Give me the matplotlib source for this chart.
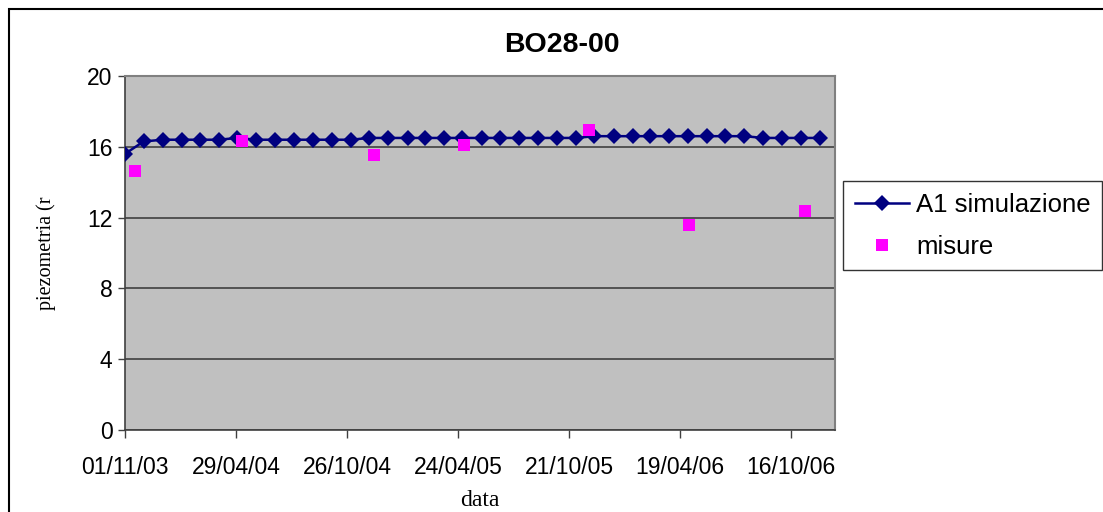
import matplotlib.pyplot as plt
import matplotlib.dates as mdates
from matplotlib.patches import Rectangle
import pandas as pd

# Serie simulata A1 (valori mensili, m)
date_sim = ["2003-11-01", "2003-12-01", "2004-01-01", "2004-02-01", "2004-03-01",
            "2004-04-01", "2004-05-01", "2004-06-01", "2004-07-01", "2004-08-01",
            "2004-09-01", "2004-10-01", "2004-11-01", "2004-12-01", "2005-01-01",
            "2005-02-01", "2005-03-01", "2005-04-01", "2005-05-01", "2005-06-01",
            "2005-07-01", "2005-08-01", "2005-09-01", "2005-10-01", "2005-11-01",
            "2005-12-01", "2006-01-01", "2006-02-01", "2006-03-01", "2006-04-01",
            "2006-05-01", "2006-06-01", "2006-07-01", "2006-08-01", "2006-09-01",
            "2006-10-01", "2006-11-01", "2006-12-01"]
valori_sim = [15.6, 16.3, 16.4, 16.4, 16.4, 16.4, 16.5, 16.4, 16.4, 16.4,
              16.4, 16.4, 16.4, 16.5, 16.5, 16.5, 16.5, 16.5, 16.5, 16.5,
              16.5, 16.5, 16.5, 16.5, 16.5, 16.6, 16.6, 16.6, 16.6, 16.6,
              16.6, 16.6, 16.6, 16.6, 16.5, 16.5, 16.5, 16.5]

# Misure piezometriche
date_mis = ["2003-11-18", "2004-05-08", "2004-12-08", "2005-05-03",
            "2005-11-23", "2006-05-03", "2006-11-08"]
valori_mis = [14.65, 16.35, 15.55, 16.1, 16.95, 11.6, 12.4]

# Etichette dell'asse x (passo di 180 giorni)
tick_date = ["2003-11-01", "2004-04-29", "2004-10-26", "2005-04-24",
             "2005-10-21", "2006-04-19", "2006-10-16"]
x_inizio = "2003-11-01"
x_fine = "2006-12-26"

W, H = 1103, 512
fig = plt.figure(figsize=(W / 100, H / 100), dpi=100)
ax = fig.add_axes([125 / W, 1 - 430 / H, (835 - 125) / W, (430 - 76) / H])

ax.set_facecolor("#C0C0C0")
ax.plot(pd.to_datetime(date_sim), valori_sim, color="#000080", linewidth=1.8,
        marker="D", markersize=8, markeredgewidth=0, label="A1 simulazione",
        zorder=3)
ax.plot(pd.to_datetime(date_mis), valori_mis, linestyle="none", marker="s",
        markersize=8.5, color="#FF00FF", markeredgewidth=0, label="misure", zorder=4)

ax.set_ylim(0, 20)
ax.set_yticks([0, 4, 8, 12, 16, 20])
ax.set_xlim(pd.Timestamp(x_inizio), pd.Timestamp(x_fine))
ax.set_xticks(pd.to_datetime(tick_date))
ax.xaxis.set_major_formatter(mdates.DateFormatter("%d/%m/%y"))

ax.grid(axis="y", color="#404040", linewidth=1.2)
ax.set_axisbelow(True)
for lato in ["left", "bottom"]:
    ax.spines[lato].set_color("#404040")
    ax.spines[lato].set_linewidth(1.2)
for lato in ["top", "right"]:
    ax.spines[lato].set_color("#808080")
    ax.spines[lato].set_linewidth(1.5)

ax.tick_params(axis="x", direction="out", length=6, width=1, color="#404040",
               labelsize=16.5, pad=13)
ax.tick_params(axis="y", direction="out", length=5, width=1, color="#404040",
               labelsize=16.5, pad=4)
for lab in ax.get_xticklabels() + ax.get_yticklabels():
    lab.set_fontfamily("Liberation Sans")

ax.set_xlabel("data", fontfamily="Liberation Serif", fontsize=17, labelpad=8)
ax.set_ylabel("piezometria (r", fontfamily="Liberation Serif", fontsize=14.5,
              labelpad=22)

fig.text(562 / W, 1 - 45 / H, "BO28-00", ha="center", va="center",
         fontsize=20.5, fontweight="bold", fontfamily="Liberation Sans")

leg = fig.legend(loc="upper left", bbox_to_anchor=(843 / W, 1 - 181 / H),
                 frameon=True, fancybox=False, edgecolor="black",
                 prop={"family": "Liberation Sans", "size": 18.5},
                 handlelength=2.1, handletextpad=0.3, borderpad=0.45,
                 labelspacing=0.7, borderaxespad=0)
leg.get_frame().set_linewidth(1)

# cornice esterna del grafico
fig.patches.append(Rectangle((9 / W, -0.1), 1.2, 1.1 - 9 / H, fill=False,
                             edgecolor="black", linewidth=1.5,
                             transform=fig.transFigure))

fig.savefig("out.png", dpi=100)
